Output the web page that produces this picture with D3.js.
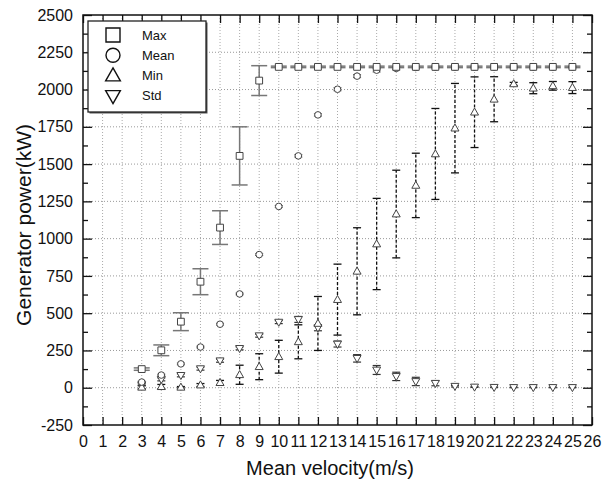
<!DOCTYPE html>
<html>
<head>
<meta charset="utf-8">
<script src="https://cdn.jsdelivr.net/npm/d3@7"></script>
<style>
  body { margin: 0; background: #fff; }
  svg text { font-family: "Liberation Sans", Arial, sans-serif; fill: #111; }
</style>
</head>
<body>
<svg id="chart" width="603" height="481"></svg>
<script>
// data
const velocity = [3, 4, 5, 6, 7, 8, 9, 10, 11, 12, 13, 14, 15, 16, 17, 18, 19, 20, 21, 22, 23, 24, 25];
const maxVal  = [125, 251, 443, 711, 1074, 1555, 2060, 2152, 2152, 2152, 2152, 2152, 2152, 2152, 2152, 2152, 2152, 2152, 2152, 2152, 2152, 2152, 2152];
const maxErr  = [8, 36, 60, 87, 113, 195, 100, 5, 5, 5, 5, 5, 5, 5, 5, 5, 5, 5, 5, 5, 5, 5, 5];
const meanVal = [38, 85, 160, 273, 426, 629, 893, 1216, 1555, 1830, 2002, 2090, 2130, 2142, 2148, 2150, 2150, 2150, 2150, 2150, 2150, 2150, 2150];
const meanErr = [6, 6, 6, 6, 6, 6, 6, 6, 8, 8, 10, 10, 12, 10, 8, 6, 6, 6, 6, 6, 6, 6, 6];
const minVal  = [3, 7, 3, 18, 34, 87, 141, 208, 308, 431, 591, 781, 964, 1165, 1357, 1568, 1741, 1848, 1935, 2038, 2009, 2025, 2013];
const minErr  = [10, 15, 5, 10, 15, 64, 87, 110, 114, 181, 238, 292, 306, 294, 216, 305, 300, 237, 151, 10, 37, 29, 40];
const stdVal  = [20, 56, 83, 128, 181, 264, 349, 440, 458, 402, 293, 197, 119, 76, 42, 30, 10, 5, 3, 2, 2, 2, 2];
const stdErr  = [5, 10, 10, 10, 10, 10, 10, 10, 20, 20, 20, 25, 30, 28, 28, 17, 5, 3, 2, 2, 2, 2, 2];
const legendNames = ['Max', 'Mean', 'Min', 'Std'];

const margin = { top: 15, right: 11, bottom: 56, left: 83 };
const W = 603, H = 481;
const width = W - margin.left - margin.right;
const height = H - margin.top - margin.bottom;

const svg = d3.select('#chart');
const chart = svg.append('g').attr('transform', `translate(${margin.left},${margin.top})`);

const x = d3.scaleLinear().domain([0, 26]).range([0, width]);
const y = d3.scaleLinear().domain([-250, 2500]).range([height, 0]);

const xTicks = d3.range(0, 27);
const yTicks = d3.range(-250, 2501, 250);
const yMinor = d3.range(-125, 2500, 250);

// grid
chart.append('g').selectAll('line')
  .data(xTicks.slice(1, -1)).join('line')
  .attr('x1', d => x(d)).attr('x2', d => x(d))
  .attr('y1', 0).attr('y2', height)
  .attr('stroke', '#aaa').attr('stroke-width', 1).attr('stroke-dasharray', '1,2');
chart.append('g').selectAll('line')
  .data(yTicks.slice(1, -1)).join('line')
  .attr('x1', 0).attr('x2', width)
  .attr('y1', d => y(d)).attr('y2', d => y(d))
  .attr('stroke', '#999').attr('stroke-width', 1).attr('stroke-dasharray', '1,2');

// axes, ticks pointing inward on all four sides
const axisStyle = g => {
  g.select('.domain').remove();
  g.selectAll('.tick line').attr('stroke', '#111').attr('stroke-width', 1.3);
  g.selectAll('.tick text').style('font-size', '16px');
};
chart.append('g').attr('transform', `translate(0,${height})`)
  .call(d3.axisBottom(x).tickValues(xTicks).tickFormat(d => String(d)).tickSizeInner(-8).tickSizeOuter(0).tickPadding(11))
  .call(axisStyle);
chart.append('g')
  .call(d3.axisTop(x).tickValues(xTicks).tickFormat('').tickSizeInner(-8).tickSizeOuter(0))
  .call(axisStyle);
chart.append('g')
  .call(d3.axisLeft(y).tickValues(yTicks).tickFormat(d => String(d)).tickSizeInner(-9).tickSizeOuter(0).tickPadding(10))
  .call(axisStyle);
chart.append('g')
  .call(d3.axisLeft(y).tickValues(yMinor).tickFormat('').tickSizeInner(-5).tickSizeOuter(0))
  .call(axisStyle);
chart.append('g').attr('transform', `translate(${width},0)`)
  .call(d3.axisRight(y).tickValues(yTicks).tickFormat('').tickSizeInner(-9).tickSizeOuter(0))
  .call(axisStyle);
chart.append('g').attr('transform', `translate(${width},0)`)
  .call(d3.axisRight(y).tickValues(yMinor).tickFormat('').tickSizeInner(-5).tickSizeOuter(0))
  .call(axisStyle);

chart.append('rect')
  .attr('width', width).attr('height', height)
  .attr('fill', 'none').attr('stroke', '#111').attr('stroke-width', 1.5);

// error bars
function errorBars(vals, errs, color, dash, capW, sw) {
  const rows = velocity.map((v, i) => ({ v, lo: vals[i] - errs[i], hi: vals[i] + errs[i] }));
  const g = chart.append('g').attr('stroke', color).attr('stroke-width', sw);
  g.selectAll('line.bar').data(rows).join('line').attr('class', 'bar')
    .attr('x1', d => x(d.v)).attr('x2', d => x(d.v))
    .attr('y1', d => y(d.lo)).attr('y2', d => y(d.hi))
    .attr('stroke-dasharray', dash);
  g.selectAll('line.capHi').data(rows).join('line').attr('class', 'capHi')
    .attr('x1', d => x(d.v) - capW).attr('x2', d => x(d.v) + capW)
    .attr('y1', d => y(d.hi)).attr('y2', d => y(d.hi));
  g.selectAll('line.capLo').data(rows).join('line').attr('class', 'capLo')
    .attr('x1', d => x(d.v) - capW).attr('x2', d => x(d.v) + capW)
    .attr('y1', d => y(d.lo)).attr('y2', d => y(d.lo));
}
errorBars(maxVal, maxErr, '#777', null, 8, 1.5);
errorBars(meanVal, meanErr, '#555', null, 4, 1);
errorBars(minVal, minErr, '#111', '3,2', 4, 1.3);
errorBars(stdVal, stdErr, '#333', null, 4, 1.2);

// marker shapes
const shape = {
  square: s => `M${-s},${-s}H${s}V${s}H${-s}Z`,
  circle: s => `M${s},0A${s},${s} 0 1,1 ${-s},0A${s},${s} 0 1,1 ${s},0Z`,
  up: s => `M0,${-s * 1.1}L${s * 1.05},${s * 0.75}H${-s * 1.05}Z`,
  down: s => `M0,${s * 1.1}L${s * 1.05},${-s * 0.75}H${-s * 1.05}Z`
};
function markers(vals, kind, size) {
  chart.append('g').selectAll('path').data(velocity).join('path')
    .attr('transform', (v, i) => `translate(${x(v)},${y(vals[i])})`)
    .attr('d', shape[kind](size))
    .attr('fill', '#fff').attr('stroke', '#444').attr('stroke-width', 1);
}
markers(stdVal, 'down', 3.8);
markers(minVal, 'up', 3.8);
markers(meanVal, 'circle', 3.3);
markers(maxVal, 'square', 3.4);

// legend
const legend = chart.append('g').attr('transform', 'translate(5,6)');
legend.append('rect').attr('x', 1.5).attr('y', 1.5).attr('width', 118).attr('height', 91)
  .attr('fill', '#555');
legend.append('rect').attr('width', 118).attr('height', 91)
  .attr('fill', '#fff').attr('stroke', '#222').attr('stroke-width', 1.3);
const legendKinds = ['square', 'circle', 'up', 'down'];
legendNames.forEach((name, i) => {
  const cy = 14 + i * 20.3;
  legend.append('path')
    .attr('transform', `translate(25,${cy})`)
    .attr('d', shape[legendKinds[i]](7))
    .attr('fill', '#fff').attr('stroke', '#111').attr('stroke-width', 1.4);
  legend.append('text')
    .attr('x', 54).attr('y', cy).attr('dy', '0.35em')
    .style('font-size', '13px')
    .text(name);
});

// axis titles
svg.append('text')
  .attr('x', 330).attr('y', 475)
  .attr('text-anchor', 'middle')
  .style('font-size', '20px')
  .text('Mean velocity(m/s)');
svg.append('text')
  .attr('transform', 'translate(31,225) rotate(-90)')
  .attr('text-anchor', 'middle')
  .style('font-size', '21px')
  .text('Generator power(kW)');
</script>
</body>
</html>
